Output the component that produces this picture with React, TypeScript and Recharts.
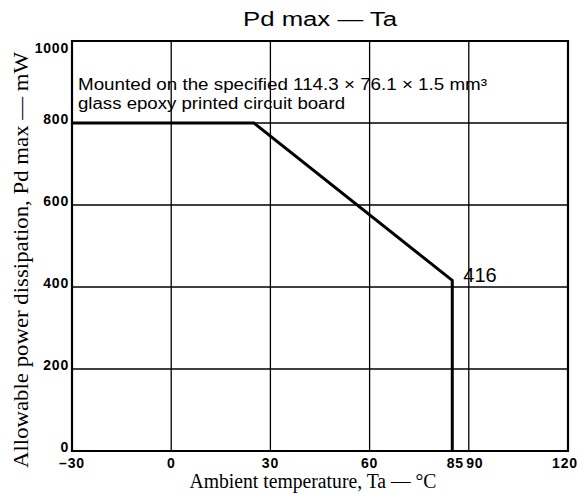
import React from "react";
import {
  LineChart,
  Line,
  XAxis,
  YAxis,
  ReferenceLine,
  ReferenceArea,
  ReferenceDot,
} from "recharts";

// derating curve
const ambientTemp = [-30, 25, 85, 85];
const pdMax = [800, 800, 416, 0];

const tempTicks = [-30, 0, 30, 60, 85, 90, 120];
const powerTicks = [0, 200, 400, 600, 800, 1000];
const gridTemps = [0, 30, 60, 90];
const gridPowers = [200, 400, 600, 800];

const data = ambientTemp.map((ta, i) => ({ ta, pd: pdMax[i] }));

const SANS = "'Liberation Sans', Arial, Helvetica, sans-serif";
const SERIF = "'Liberation Serif', 'Times New Roman', serif";

function TempTick({ x, y, payload }: any) {
  const v = payload.value as number;
  const shift = v === 90 ? 6 : v === 85 ? 3 : v === 120 ? -3 : 0;
  const label = v < 0 ? `\u2013${-v}` : String(v);
  return (
    <text
      x={x + shift}
      y={y + 17}
      textAnchor="middle"
      fontFamily={SANS}
      fontWeight="bold"
      fontSize={14}
      letterSpacing={0.8}
      fill="#000"
    >
      {label}
    </text>
  );
}

function PowerTick({ x, y, payload }: any) {
  const v = payload.value as number;
  const dy = v === 1000 ? 12 : 1;
  return (
    <text
      x={x - 3}
      y={y + dy}
      textAnchor="end"
      fontFamily={SANS}
      fontWeight="bold"
      fontSize={14}
      letterSpacing={0.8}
      fill="#000"
    >
      {v}
    </text>
  );
}

function PointLabel({ viewBox, value }: any) {
  const cx = viewBox.x + (viewBox.width || 0) / 2;
  const cy = viewBox.y + (viewBox.height || 0) / 2;
  return (
    <text x={cx + 11} y={cy + 2} fontFamily={SANS} fontSize={20} fill="#000">
      {value}
    </text>
  );
}

export default function App() {
  return (
    <div
      style={{
        position: "absolute",
        left: 0,
        top: 0,
        width: 578,
        height: 497,
        background: "#fff",
      }}
    >
      <LineChart
        width={578}
        height={497}
        data={data}
        margin={{ top: 41, right: 10, bottom: 0, left: 0 }}
      >
        <XAxis
          dataKey="ta"
          type="number"
          domain={[-30, 120]}
          ticks={tempTicks}
          interval={0}
          height={46}
          tickLine={false}
          axisLine={false}
          tickSize={0}
          tickMargin={0}
          tick={<TempTick />}
        />
        <YAxis
          type="number"
          domain={[0, 1000]}
          ticks={powerTicks}
          interval={0}
          width={72}
          tickLine={false}
          axisLine={false}
          tickSize={0}
          tickMargin={0}
          tick={<PowerTick />}
        />
        {gridTemps.map((t) => (
          <ReferenceLine key={`vx${t}`} x={t} stroke="#000" strokeWidth={1.3} />
        ))}
        {gridPowers.map((p) => (
          <ReferenceLine key={`hy${p}`} y={p} stroke="#000" strokeWidth={1.3} />
        ))}
        <ReferenceArea
          x1={-30}
          x2={120}
          y1={0}
          y2={1000}
          fill="none"
          fillOpacity={0}
          stroke="#000"
          strokeWidth={2.2}
        />
        <Line
          type="linear"
          dataKey="pd"
          stroke="#000"
          strokeWidth={3}
          dot={false}
          isAnimationActive={false}
        />
        <ReferenceDot
          x={ambientTemp[2]}
          y={pdMax[2]}
          r={0}
          fill="none"
          stroke="none"
          label={<PointLabel value={pdMax[2]} />}
        />
        <text
          x={320}
          y={26}
          textAnchor="middle"
          fontFamily={SANS}
          fontSize={20}
          textLength={154}
          lengthAdjust="spacingAndGlyphs"
          fill="#000"
        >
          Pd max — Ta
        </text>
        <text
          x={78}
          y={90}
          fontFamily={SANS}
          fontSize={16}
          textLength={409}
          lengthAdjust="spacingAndGlyphs"
          fill="#000"
        >
          Mounted on the specified 114.3 × 76.1 × 1.5 mm³
        </text>
        <text
          x={78}
          y={109}
          fontFamily={SANS}
          fontSize={16}
          textLength={267}
          lengthAdjust="spacingAndGlyphs"
          fill="#000"
        >
          glass epoxy printed circuit board
        </text>
        <text
          x={313}
          y={488}
          textAnchor="middle"
          fontFamily={SERIF}
          fontSize={20}
          textLength={247}
          lengthAdjust="spacingAndGlyphs"
          fill="#000"
        >
          Ambient temperature, Ta — °C
        </text>
        <text
          transform="translate(28, 260) rotate(-90)"
          textAnchor="middle"
          fontFamily={SERIF}
          fontSize={22}
          textLength={416}
          lengthAdjust="spacingAndGlyphs"
          fill="#000"
        >
          Allowable power dissipation, Pd max — mW
        </text>
      </LineChart>
    </div>
  );
}
